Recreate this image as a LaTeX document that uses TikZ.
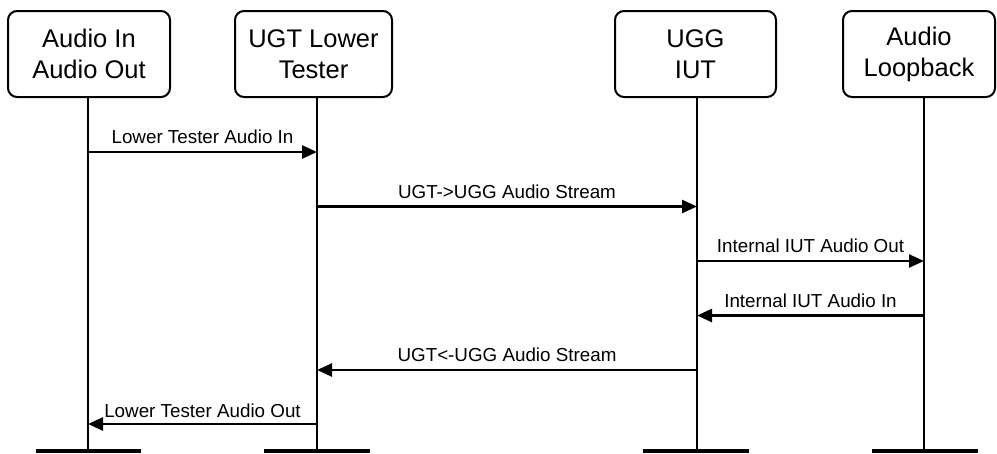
\documentclass[tikz,border=0pt]{standalone}
\usepackage{fontspec}
\setmainfont{Liberation Sans}
\usetikzlibrary{arrows.meta}
\begin{document}
\begin{tikzpicture}[x=1pt,y=-1pt,
  actor/.style={draw,line width=2pt,rounded corners=9pt,minimum height=86pt,align=center,
    font=\fontsize{25.5}{31}\selectfont,inner sep=0pt},
  life/.style={line width=2pt},
  bar/.style={line width=4pt},
  msg/.style={line width=2.5pt,-{Triangle[length=15pt,width=13pt]}},
  lbl/.style={font=\fontsize{18.8}{21}\selectfont,inner sep=0pt,anchor=base}]
\useasboundingbox (0,0) rectangle (997,453);
% actors
\node[actor,minimum width=162pt] (A) at (89,54) {Audio In\\Audio Out};
\node[actor,minimum width=157pt] (B) at (313.5,54) {UGT Lower\\Tester};
\node[actor,minimum width=161pt] (C) at (695.5,54) {UGG\\IUT};
\node[actor,minimum width=152pt] (D) at (919,54) {Audio\\Loopback};
% lifeline ends
\coordinate (A1) at (88,97);  \coordinate (A2) at (88,451);
\coordinate (B1) at (317,97); \coordinate (B2) at (317,451);
\coordinate (C1) at (697,97); \coordinate (C2) at (697,451);
\coordinate (D1) at (924,97); \coordinate (D2) at (924,451);
\draw[life] (A1) -- (A2);
\draw[life] (B1) -- (B2);
\draw[life] (C1) -- (C2);
\draw[life] (D1) -- (D2);
% bottom bars
\draw[bar] ([xshift=-52pt]A2) -- ([xshift=53pt]A2);
\draw[bar] ([xshift=-53pt]B2) -- ([xshift=53pt]B2);
\draw[bar] ([xshift=-54pt]C2) -- ([xshift=52pt]C2);
\draw[bar] ([xshift=-52pt]D2) -- ([xshift=54pt]D2);
% messages
\draw[msg] (A1 |- 0,152) -- node[lbl,above=7pt] {Lower Tester Audio In} (B1 |- 0,152);
\draw[msg] (B1 |- 0,206.5) -- node[lbl,above=7pt] {UGT->UGG Audio Stream} (C1 |- 0,206.5);
\draw[msg] (C1 |- 0,261) -- node[lbl,above=7pt] {Internal IUT Audio Out} (D1 |- 0,261);
\draw[msg] (D1 |- 0,315.5) -- node[lbl,above=7pt] {Internal IUT Audio In} (C1 |- 0,315.5);
\draw[msg] (C1 |- 0,370) -- node[lbl,above=7pt] {UGT<-UGG Audio Stream} (B1 |- 0,370);
\draw[msg] (B1 |- 0,424) -- node[lbl,above=5pt] {Lower Tester Audio Out} (A1 |- 0,424);
\end{tikzpicture}
\end{document}
